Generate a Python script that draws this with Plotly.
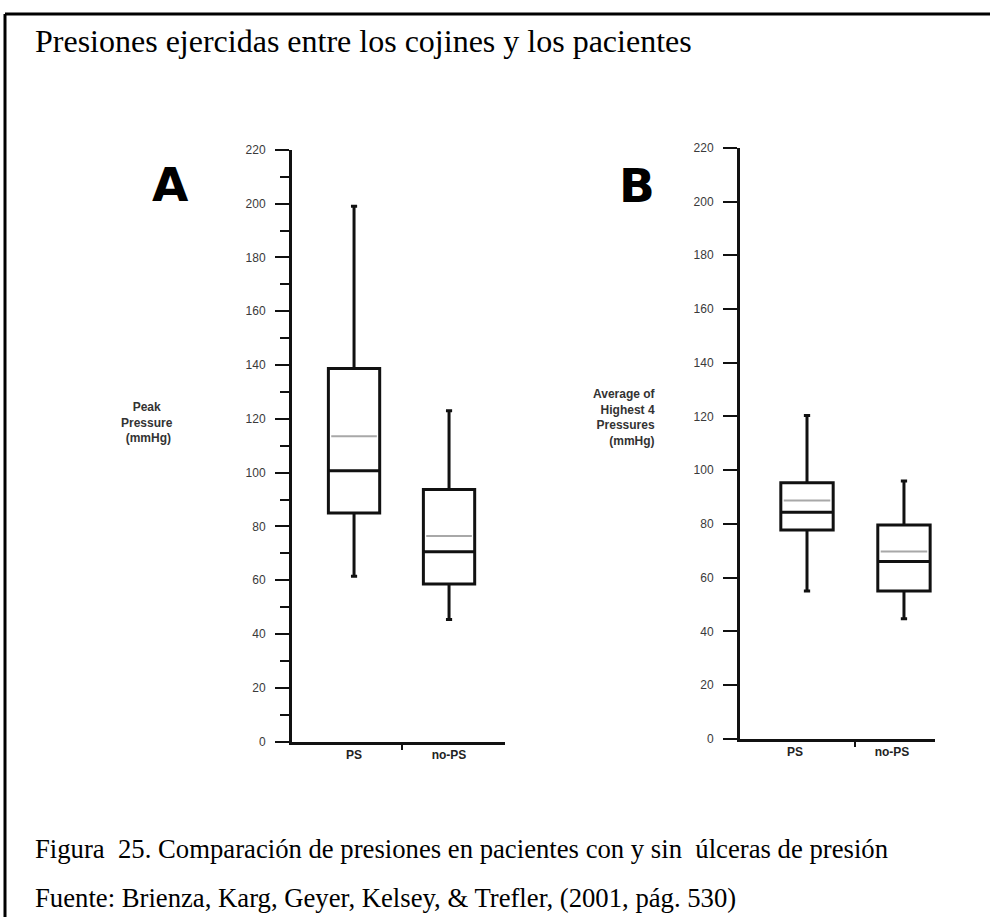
import plotly.graph_objects as go

W, H = 990, 924

# ---- data -------------------------------------------------------------
categories = ["PS", "no-PS"]
cat_pos = [1, 2]
y_ticks = list(range(0, 221, 20))
y_minor = list(range(10, 220, 20))

# Panel A: Peak Pressure (mmHg)
a_lower = [61.5, 45.4]
a_q1 = [85.0, 58.6]
a_median = [100.7, 70.6]
a_q3 = [138.7, 93.7]
a_upper = [199.0, 123.0]
a_mean = [113.5, 76.5]

# Panel B: Average of Highest 4 Pressures (mmHg)
b_lower = [55.0, 44.7]
b_q1 = [77.7, 55.0]
b_median = [84.3, 66.0]
b_q3 = [95.3, 79.6]
b_upper = [120.3, 96.0]
b_mean = [88.7, 69.7]

title_text = "Presiones ejercidas entre los cojines y los pacientes"
caption_1 = "Figura  25. Comparación de presiones en pacientes con y sin  úlceras de presión"
caption_2 = "Fuente: Brienza, Karg, Geyer, Kelsey, &amp; Trefler, (2001, pág. 530)"
ytitle_a = "Peak<br>Pressure<br> (mmHg)"
ytitle_b = "Average of<br>Highest 4<br>Pressures<br>(mmHg)"

# ---- styles ------------------------------------------------------------
INK = "#111111"
BOX_W = 0.54
LW = 3


def px(x):
    return x / W


def py(y):
    return 1 - y / H


def box_trace(q1, med, q3, lo, hi, mean, xa, ya):
    return go.Box(
        x=cat_pos, q1=q1, median=med, q3=q3, lowerfence=lo, upperfence=hi,
        mean=mean, boxmean=False, boxpoints=False, width=BOX_W,
        whiskerwidth=0.12, fillcolor="rgba(0,0,0,0)",
        line=dict(color=INK, width=LW), xaxis=xa, yaxis=ya,
        showlegend=False, hoverinfo="skip",
    )


def mean_trace(mean, xa, ya):
    xs, ys = [], []
    hw = BOX_W / 2 - 0.03
    for p, m in zip(cat_pos, mean):
        xs += [p - hw, p + hw, None]
        ys += [m, m, None]
    return go.Scatter(x=xs, y=ys, mode="lines",
                      line=dict(color="#a8a8a8", width=2),
                      xaxis=xa, yaxis=ya, showlegend=False, hoverinfo="skip")


fig = go.Figure()
fig.add_trace(box_trace(a_q1, a_median, a_q3, a_lower, a_upper, a_mean, "x", "y"))
fig.add_trace(mean_trace(a_mean, "x", "y"))
fig.add_trace(box_trace(b_q1, b_median, b_q3, b_lower, b_upper, b_mean, "x2", "y2"))
fig.add_trace(mean_trace(b_mean, "x2", "y2"))

mid = sum(cat_pos) / len(cat_pos)
tickfont = dict(family="Liberation Sans", size=12, color="#3a3a3a")
xtickfont = dict(family="Liberation Sans", size=12, color="#222222", weight="bold")


def xaxis(dom, rng, shift):
    return dict(domain=dom, range=rng, showline=True, linecolor=INK, linewidth=LW,
                tickvals=cat_pos, ticktext=categories, ticks="", showgrid=False,
                zeroline=False, tickfont=xtickfont, ticklabelshift=shift,
                minor=dict(tickvals=[mid], ticks="outside", ticklen=5, tickwidth=2,
                           tickcolor=INK, showgrid=False))


def yaxis(dom, anchor, minor):
    d = dict(domain=dom, range=[0, 220], showline=True, linecolor=INK, linewidth=LW,
             tickvals=y_ticks, ticks="outside", ticklen=14, tickwidth=2, tickcolor=INK,
             showgrid=False, zeroline=False, tickfont=tickfont, anchor=anchor,
             ticklabelstandoff=7)
    if minor:
        d["minor"] = dict(tickvals=y_minor, ticks="outside", ticklen=9, tickwidth=2,
                          tickcolor=INK, showgrid=False)
    return d


fig.update_layout(
    width=W, height=H, autosize=False,
    margin=dict(l=0, r=0, t=0, b=0),
    paper_bgcolor="white", plot_bgcolor="white",
    xaxis=dict(anchor="y", **xaxis([px(292), px(505)], [0.347, 2.589], 0)),
    yaxis=yaxis([py(746), py(145)], "x", True),
    xaxis2=dict(anchor="y2", **xaxis([px(740), px(935)], [0.309, 2.32], -12)),
    yaxis2=yaxis([py(743), py(143)], "x2", False),
)

serif = dict(family="Liberation Serif", size=32, color="black")
cap = dict(family="Liberation Serif", size=26.7, color="black")
letter = dict(family="DejaVu Sans", size=47, color="black", weight="bold")
ylab = dict(family="Liberation Sans", size=12, color="#333333", weight="bold")
ann = [
    dict(text=title_text, x=px(33), y=py(35), xanchor="left", yanchor="middle", font=serif),
    dict(text=caption_1, x=px(33), y=py(855), xanchor="left", yanchor="middle", font=cap),
    dict(text=caption_2, x=px(33), y=py(905), xanchor="left", yanchor="middle", font=cap),
    dict(text="A", x=px(170), y=py(180), xanchor="center", yanchor="middle", font=letter),
    dict(text="B", x=px(637), y=py(181), xanchor="center", yanchor="middle", font=letter),
    dict(text=ytitle_a, x=px(147), y=py(422), xanchor="center", yanchor="middle",
         align="center", font=ylab),
    dict(text=ytitle_b, x=px(658), y=py(417), xanchor="right", yanchor="middle",
         align="right", font=ylab),
]
for a in ann:
    a.update(xref="paper", yref="paper", showarrow=False)
fig.update_layout(annotations=ann)

fig.update_layout(shapes=[
    dict(type="line", xref="paper", yref="paper", x0=px(5), x1=1.0, y0=py(7), y1=py(7),
         line=dict(color="black", width=3)),
    dict(type="line", xref="paper", yref="paper", x0=px(5), x1=px(5), y0=py(7), y1=0,
         line=dict(color="black", width=3)),
])

fig.write_html("out.html")
